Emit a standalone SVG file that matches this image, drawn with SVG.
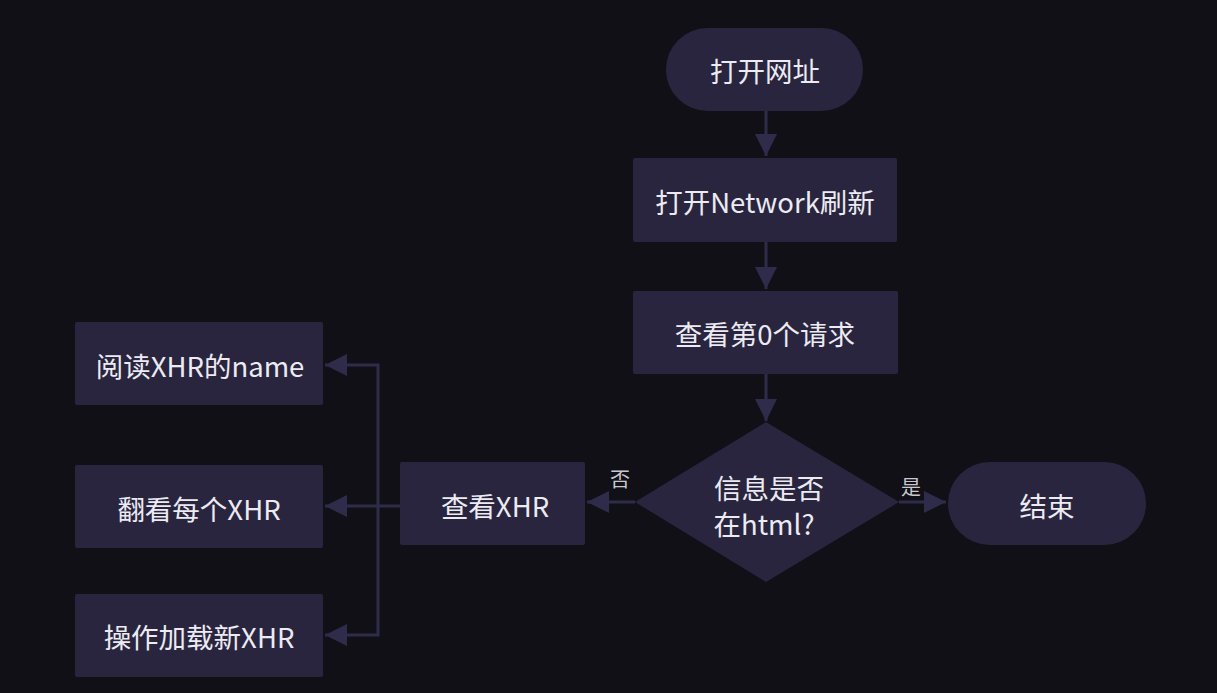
<svg xmlns="http://www.w3.org/2000/svg" width="1217" height="693" viewBox="0 0 1217 693">
<style>
.n{fill:#29253f}
.t{font-family:"Noto Sans CJK SC","Noto Sans",sans-serif;font-size:27.5px;fill:#ecebf2;text-anchor:middle;dominant-baseline:central}
.l{font-family:"Noto Sans CJK SC","Noto Sans",sans-serif;font-size:20px;fill:#c9c8d0;text-anchor:middle;dominant-baseline:central}
.c{fill:none;stroke:#2f2b4b;stroke-width:3}
</style>
<defs>
<marker id="a" markerUnits="userSpaceOnUse" markerWidth="24" markerHeight="24" viewBox="0 0 24 24" refX="22" refY="12" orient="auto">
<path d="M0,1 L22,12 L0,23 Z" fill="#2f2b4b"/>
</marker>
</defs>
<rect width="1217" height="693" fill="#111016"/>
<g id="connectors">
<path class="c" d="M766,111 V156" marker-end="url(#a)"/>
<path class="c" d="M766,242 V289" marker-end="url(#a)"/>
<path class="c" d="M766,374 V421" marker-end="url(#a)"/>
<path class="c" d="M635,502 H587" marker-end="url(#a)"/>
<path class="c" d="M899,502 H946" marker-end="url(#a)"/>
<path class="c" d="M400,506 H325" marker-end="url(#a)"/>
<path class="c" d="M378,506 V365 H325" marker-end="url(#a)"/>
<path class="c" d="M378,506 V635 H325" marker-end="url(#a)"/>
<text class="l" x="620" y="478">否</text>
<text class="l" x="911" y="486">是</text>
</g>
<g id="start"><rect class="n" x="666" y="28" width="197" height="83" rx="41.5"/><text class="t" x="765" y="70">打开网址</text></g>
<g id="network"><rect class="n" x="633" y="158" width="264" height="84" rx="2"/><text class="t" x="765" y="201">打开Network刷新</text></g>
<g id="req0"><rect class="n" x="633" y="291" width="265" height="83" rx="2"/><text class="t" x="765" y="333">查看第0个请求</text></g>
<g id="decision"><path class="n" d="M766,422 L899,502 L766,582 L635,502 Z"/><text class="t" x="769" y="487">信息是否</text><text class="t" x="764" y="523">在html?</text></g>
<g id="end"><rect class="n" x="948" y="462" width="198" height="83" rx="41.5"/><text class="t" x="1047" y="505">结束</text></g>
<g id="viewxhr"><rect class="n" x="400" y="462" width="185" height="83" rx="2"/><text class="t" x="495" y="505">查看XHR</text></g>
<g id="readname"><rect class="n" x="75" y="322" width="248" height="83" rx="2"/><text class="t" x="200" y="365">阅读XHR的name</text></g>
<g id="each"><rect class="n" x="75" y="465" width="248" height="83" rx="2"/><text class="t" x="199" y="508">翻看每个XHR</text></g>
<g id="load"><rect class="n" x="75" y="594" width="248" height="83" rx="2"/><text class="t" x="199" y="636">操作加载新XHR</text></g>
</svg>
